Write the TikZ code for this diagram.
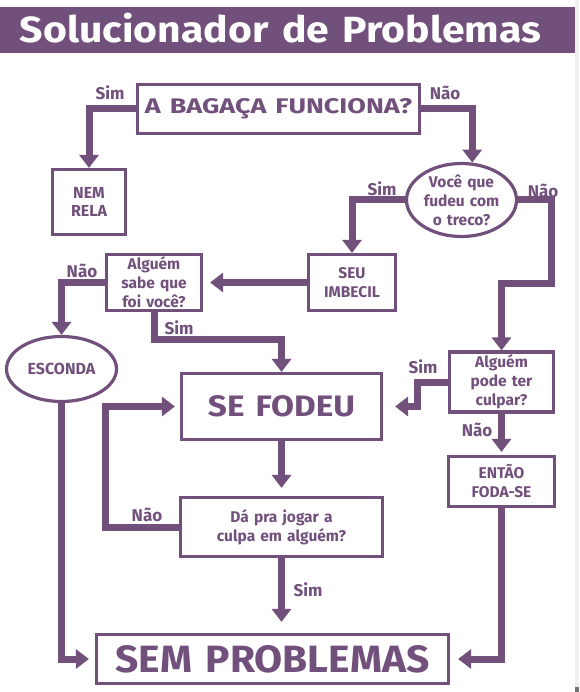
\documentclass[tikz,border=0pt]{standalone}
\usepackage{fontspec}
\setmainfont{Fira Sans}[WordSpace=1.4]
\usetikzlibrary{arrows.meta,shapes.geometric}
\definecolor{pp}{HTML}{72507C}
\begin{document}
\begin{tikzpicture}[x=1pt,y=-1pt,
  box/.style={draw=pp,line width=3.2pt,text=pp,font=\bfseries\fontsize{15.5}{19}\selectfont,align=center,inner sep=0pt},
  oval/.style={box,ellipse},
  conn/.style={draw=pp,line width=7pt,-{Triangle[width=19pt,length=13pt]}},
  lbl/.style={text=pp,font=\bfseries\fontsize{17}{17}\selectfont,inner sep=0pt},
]
\useasboundingbox (0,0) rectangle (579,692);
\fill[white] (0,0) rectangle (579,692);
\fill[black!6] (575,0) rectangle (579,692);
\fill[black!55] (575,687) rectangle (579,692);
% title bar
\fill[pp] (0,7) rectangle (575,53);
\node[text=white,font=\bfseries,anchor=base,inner sep=0pt] (title) at (280.5,43) {\resizebox{521pt}{29.5pt}{Solucionador de Problemas}};

% boxes
\node[box,minimum width=282pt,minimum height=49pt] (A) at (278.5,109) {\resizebox{267pt}{15pt}{A BAGAÇA FUNCIONA?}};
\node[box,minimum width=73pt,minimum height=65pt,font=\bfseries\fontsize{16}{18.5}\selectfont] (N) at (89,202) {NEM\\RELA};
\node[oval,minimum width=110pt,minimum height=73pt] (V) at (461.5,200) {Você que\\fudeu com\\o treco?};
\node[box,minimum width=87pt,minimum height=56pt] (S) at (352,282.5) {SEU\\IMBECIL};
\node[box,minimum width=95pt,minimum height=56pt] (G) at (154,282.5) {Alguém\\sabe que\\foi você?};
\node[oval,minimum width=110pt,minimum height=65pt,font=\bfseries\fontsize{16}{18.5}\selectfont] (E) at (61.5,369) {ESCONDA};
\node[box,minimum width=200pt,minimum height=66pt] (F) at (281.5,406.5) {\resizebox{147pt}{21pt}{SE FODEU}};
\node[box,minimum width=104pt,minimum height=60pt] (P) at (501.5,382) {Alguém\\pode ter\\culpar?};
\node[box,minimum width=106pt,minimum height=50pt] (T) at (501.5,481.5) {ENTÃO\\FODA-SE};
\node[box,minimum width=202pt,minimum height=59pt] (D) at (281.5,527) {Dá pra jogar a\\culpa em alguém?};
\node[box,minimum width=352pt,minimum height=49pt] (M) at (272.5,659) {\resizebox{314pt}{27pt}{SEM PROBLEMAS}};

% helper coordinates
\coordinate (k1) at (551,283);
\coordinate (k2) at (281.5,339);
\coordinate (k3) at (417,406.5);
\coordinate (k4) at (105,406.5);

% connectors
\draw[conn] (A.west) -| (N.north);
\draw[conn] (A.east) -| (V.74);
\draw[conn] (V.west) -| (S.north);
\draw[conn] (V.east) -| (k1) -| (P.north);
\draw[conn,shorten >=7pt] (S.west) -- (G.east);
\draw[conn] (G.west) -| (E.north);
\draw[conn] (G.south) |- (k2) -- (F.north);
\draw[conn,shorten >=12pt] (P.west) -| (k3) -- (F.east);
\draw[conn,shorten >=3pt] (P.south) -- (T.north);
\draw[conn,shorten >=8pt] (F.south) -- (D.north);
\draw[conn,shorten >=5pt] (D.west) -| (k4) -- (F.west);
\draw[conn,shorten >=11pt] (D.south) -- (D.south |- M.north);
\draw[conn,shorten >=6pt] (E.south) |- (M.west);
\draw[conn,shorten >=8pt] (T.south) |- (M.east);

% labels
\node[lbl] (l1) at (110,93) {Sim};
\node[lbl] (l2) at (445,93) {Não};
\node[lbl] (l3) at (382,189) {Sim};
\node[lbl] (l4) at (543,191) {Não};
\node[lbl] (l5) at (82,271) {Não};
\node[lbl] (l6) at (179,328) {Sim};
\node[lbl] (l7) at (423,367) {Sim};
\node[lbl] (l8) at (477,430) {Não};
\node[lbl] (l9) at (147,515) {Não};
\node[lbl] (l10) at (308,590) {Sim};
\end{tikzpicture}
\end{document}
